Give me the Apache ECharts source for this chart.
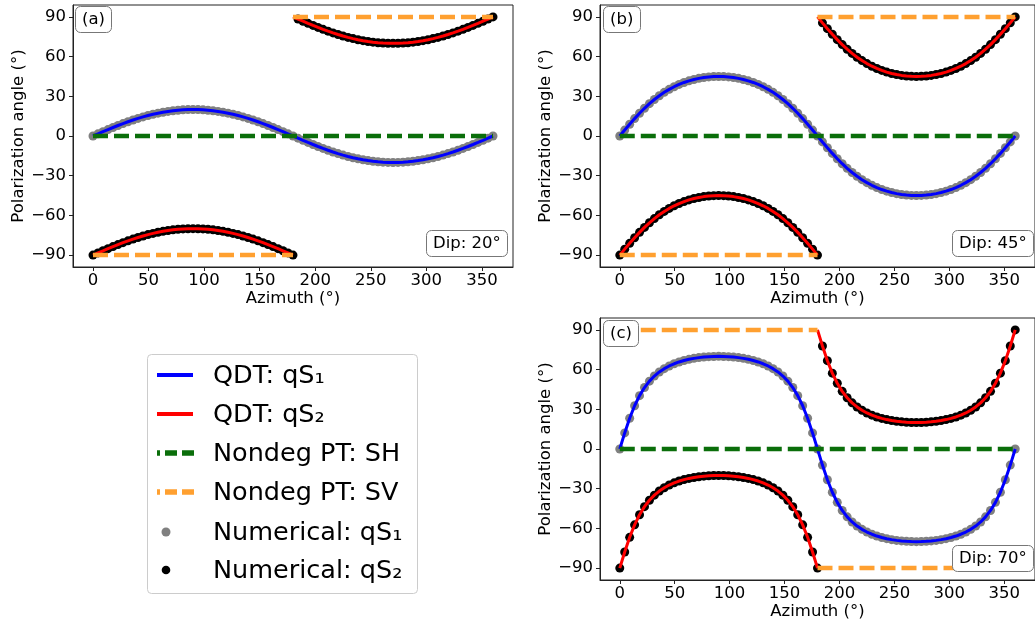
<!DOCTYPE html>
<html>
<head>
<meta charset="utf-8">
<script src="https://cdn.jsdelivr.net/npm/echarts@6/dist/echarts.min.js"></script>
<style>
html,body{margin:0;padding:0;background:#fff;}
#chart{width:1035px;height:628px;}
</style>
</head>
<body>
<div id="chart"></div>
<script>
// ---- data ----
const azimuth = [0,4.5,9,13.5,18,22.5,27,31.5,36,40.5,45,49.5,54,58.5,63,67.5,72,76.5,81,85.5,90,94.5,99,103.5,108,112.5,117,121.5,126,130.5,135,139.5,144,148.5,153,157.5,162,166.5,171,175.5,180,184.5,189,193.5,198,202.5,207,211.5,216,220.5,225,229.5,234,238.5,243,247.5,252,256.5,261,265.5,270,274.5,279,283.5,288,292.5,297,301.5,306,310.5,315,319.5,324,328.5,333,337.5,342,346.5,351,355.5,360];
const azimuthLow = [0,4.5,9,13.5,18,22.5,27,31.5,36,40.5,45,49.5,54,58.5,63,67.5,72,76.5,81,85.5,90,94.5,99,103.5,108,112.5,117,121.5,126,130.5,135,139.5,144,148.5,153,157.5,162,166.5,171,175.5,180];
const azimuthHigh = [180,184.5,189,193.5,198,202.5,207,211.5,216,220.5,225,229.5,234,238.5,243,247.5,252,256.5,261,265.5,270,274.5,279,283.5,288,292.5,297,301.5,306,310.5,315,319.5,324,328.5,333,337.5,342,346.5,351,355.5,360];

// Dip 20
const qs1Dip20 = [0,1.64,3.26,4.86,6.42,7.93,9.38,10.77,12.08,13.3,14.43,15.47,16.41,17.24,17.97,18.59,19.09,19.49,19.77,19.94,20,19.94,19.77,19.49,19.09,18.59,17.97,17.24,16.41,15.47,14.43,13.3,12.08,10.77,9.38,7.93,6.42,4.86,3.26,1.64,0,-1.64,-3.26,-4.86,-6.42,-7.93,-9.38,-10.77,-12.08,-13.3,-14.43,-15.47,-16.41,-17.24,-17.97,-18.59,-19.09,-19.49,-19.77,-19.94,-20,-19.94,-19.77,-19.49,-19.09,-18.59,-17.97,-17.24,-16.41,-15.47,-14.43,-13.3,-12.08,-10.77,-9.38,-7.93,-6.42,-4.86,-3.26,-1.64,0];
const qs2LowDip20 = [-90,-88.36,-86.74,-85.14,-83.58,-82.07,-80.62,-79.23,-77.92,-76.7,-75.57,-74.53,-73.59,-72.76,-72.03,-71.41,-70.91,-70.51,-70.23,-70.06,-70,-70.06,-70.23,-70.51,-70.91,-71.41,-72.03,-72.76,-73.59,-74.53,-75.57,-76.7,-77.92,-79.23,-80.62,-82.07,-83.58,-85.14,-86.74,-88.36,-90];
const qs2HighDip20 = [90,88.36,86.74,85.14,83.58,82.07,80.62,79.23,77.92,76.7,75.57,74.53,73.59,72.76,72.03,71.41,70.91,70.51,70.23,70.06,70,70.06,70.23,70.51,70.91,71.41,72.03,72.76,73.59,74.53,75.57,76.7,77.92,79.23,80.62,82.07,83.58,85.14,86.74,88.36,90];

// Dip 45
const qs1Dip45 = [0,4.49,8.89,13.14,17.17,20.94,24.42,27.59,30.45,33,35.26,37.25,38.97,40.45,41.7,42.73,43.56,44.2,44.65,44.91,45,44.91,44.65,44.2,43.56,42.73,41.7,40.45,38.97,37.25,35.26,33,30.45,27.59,24.42,20.94,17.17,13.14,8.89,4.49,0,-4.49,-8.89,-13.14,-17.17,-20.94,-24.42,-27.59,-30.45,-33,-35.26,-37.25,-38.97,-40.45,-41.7,-42.73,-43.56,-44.2,-44.65,-44.91,-45,-44.91,-44.65,-44.2,-43.56,-42.73,-41.7,-40.45,-38.97,-37.25,-35.26,-33,-30.45,-27.59,-24.42,-20.94,-17.17,-13.14,-8.89,-4.49,0];
const qs2LowDip45 = [-90,-85.51,-81.11,-76.86,-72.83,-69.06,-65.58,-62.41,-59.55,-57,-54.74,-52.75,-51.03,-49.55,-48.3,-47.27,-46.44,-45.8,-45.35,-45.09,-45,-45.09,-45.35,-45.8,-46.44,-47.27,-48.3,-49.55,-51.03,-52.75,-54.74,-57,-59.55,-62.41,-65.58,-69.06,-72.83,-76.86,-81.11,-85.51,-90];
const qs2HighDip45 = [90,85.51,81.11,76.86,72.83,69.06,65.58,62.41,59.55,57,54.74,52.75,51.03,49.55,48.3,47.27,46.44,45.8,45.35,45.09,45,45.09,45.35,45.8,46.44,47.27,48.3,49.55,51.03,52.75,54.74,57,59.55,62.41,65.58,69.06,72.83,76.86,81.11,85.51,90];

// Dip 70
const qs1Dip70 = [0,12.16,23.26,32.68,40.33,46.44,51.28,55.14,58.23,60.73,62.76,64.42,65.78,66.88,67.78,68.5,69.06,69.48,69.77,69.94,70,69.94,69.77,69.48,69.06,68.5,67.78,66.88,65.78,64.42,62.76,60.73,58.23,55.14,51.28,46.44,40.33,32.68,23.26,12.16,0,-12.16,-23.26,-32.68,-40.33,-46.44,-51.28,-55.14,-58.23,-60.73,-62.76,-64.42,-65.78,-66.88,-67.78,-68.5,-69.06,-69.48,-69.77,-69.94,-70,-69.94,-69.77,-69.48,-69.06,-68.5,-67.78,-66.88,-65.78,-64.42,-62.76,-60.73,-58.23,-55.14,-51.28,-46.44,-40.33,-32.68,-23.26,-12.16,0];
const qs2LowDip70 = [-90,-77.84,-66.74,-57.32,-49.67,-43.56,-38.72,-34.86,-31.77,-29.27,-27.24,-25.58,-24.22,-23.12,-22.22,-21.5,-20.94,-20.52,-20.23,-20.06,-20,-20.06,-20.23,-20.52,-20.94,-21.5,-22.22,-23.12,-24.22,-25.58,-27.24,-29.27,-31.77,-34.86,-38.72,-43.56,-49.67,-57.32,-66.74,-77.84,-90];
const qs2HighDip70 = [90,77.84,66.74,57.32,49.67,43.56,38.72,34.86,31.77,29.27,27.24,25.58,24.22,23.12,22.22,21.5,20.94,20.52,20.23,20.06,20,20.06,20.23,20.52,20.94,21.5,22.22,23.12,24.22,25.58,27.24,29.27,31.77,34.86,38.72,43.56,49.67,57.32,66.74,77.84,90];

// Nondegenerate PT lines
const shAz = [0, 360];
const shVal = [0, 0];
const svAzHighHalf = [180, 360];
const svAzLowHalf = [0, 180];
const svTopVal = [90, 90];
const svBottomVal = [-90, -90];

const xTicks = [0, 50, 100, 150, 200, 250, 300, 350];
const yTicks = [-90, -60, -30, 0, 30, 60, 90];
const panelLabels = ['(a)', '(b)', '(c)'];
const dipLabels = ['Dip: 20°', 'Dip: 45°', 'Dip: 70°'];
const legendLabels = ['QDT: qS₁', 'QDT: qS₂', 'Nondeg PT: SH', 'Nondeg PT: SV', 'Numerical: qS₁', 'Numerical: qS₂'];

// ---- chart ----
const FONT = 'DejaVu Sans';
const BLUE = '#0000ff', RED = '#ff0000', GREEN = '#0a6e0a', ORANGE = '#ffa030', GREY = '#808080', BLACK = '#000000';
const AXC = '#222';

function zip(xs, ys) { return xs.map((x, i) => [x, ys[i]]); }
function fmtY(v) { return v < 0 ? '\u2212' + (-v) : String(v); }

const grids = [
  {left: 73, top: 5, width: 440, height: 262},
  {left: 600, top: 5, width: 443, height: 262},
  {left: 600, top: 318, width: 443, height: 262}
];

const panels = [
  {qs1: qs1Dip20, low: qs2LowDip20, high: qs2HighDip20, svTopAz: svAzHighHalf, svBotAz: svAzLowHalf},
  {qs1: qs1Dip45, low: qs2LowDip45, high: qs2HighDip45, svTopAz: svAzHighHalf, svBotAz: svAzLowHalf},
  {qs1: qs1Dip70, low: qs2LowDip70, high: qs2HighDip70, svTopAz: svAzLowHalf, svBotAz: svAzHighHalf}
];

const xAxes = [], yAxes = [], series = [];
grids.forEach((g, k) => {
  xAxes.push({
    type: 'value', gridIndex: k, min: -18, max: 378,
    name: 'Azimuth (°)', nameLocation: 'middle', nameGap: 20,
    nameTextStyle: {fontFamily: FONT, fontSize: 16.5, color: '#000'},
    axisLine: {show: true, onZero: false, lineStyle: {color: AXC, width: 1}},
    axisTick: {show: true, length: 4, customValues: xTicks, lineStyle: {color: AXC, width: 1}},
    axisLabel: {show: true, margin: 5, customValues: xTicks, fontFamily: FONT, fontSize: 16.5, color: '#000'},
    splitLine: {show: false}
  });
  yAxes.push({
    type: 'value', gridIndex: k, min: -99, max: 99,
    name: 'Polarization angle (°)', nameLocation: 'middle', nameGap: 45,
    nameTextStyle: {fontFamily: FONT, fontSize: 16.5, color: '#000'},
    axisLine: {show: true, onZero: false, lineStyle: {color: AXC, width: 1}},
    axisTick: {show: true, length: 4, customValues: yTicks, lineStyle: {color: AXC, width: 1}},
    axisLabel: {show: true, margin: 7, customValues: yTicks, formatter: fmtY, fontFamily: FONT, fontSize: 16.5, color: '#000'},
    splitLine: {show: false}
  });
  const p = panels[k];
  const base = {xAxisIndex: k, yAxisIndex: k, silent: true, animation: false};
  // numerical points
  series.push(Object.assign({}, base, {type: 'scatter', name: 'Numerical: qS1', z: 2,
    data: zip(azimuth, p.qs1), symbolSize: 9, itemStyle: {color: GREY, opacity: 1}}));
  series.push(Object.assign({}, base, {type: 'scatter', name: 'Numerical: qS2', z: 2,
    data: zip(azimuthLow, p.low), symbolSize: 9, itemStyle: {color: BLACK, opacity: 1}}));
  series.push(Object.assign({}, base, {type: 'scatter', name: 'Numerical: qS2', z: 2,
    data: zip(azimuthHigh, p.high).slice(1), symbolSize: 9, itemStyle: {color: BLACK, opacity: 1}}));
  // QDT lines
  series.push(Object.assign({}, base, {type: 'line', name: 'QDT: qS1', z: 3, showSymbol: false, symbol: 'none',
    data: zip(azimuth, p.qs1), lineStyle: {color: BLUE, width: 3}}));
  series.push(Object.assign({}, base, {type: 'line', name: 'QDT: qS2', z: 3, showSymbol: false, symbol: 'none',
    data: zip(azimuthLow, p.low), lineStyle: {color: RED, width: 3}}));
  series.push(Object.assign({}, base, {type: 'line', name: 'QDT: qS2', z: 3, showSymbol: false, symbol: 'none',
    data: zip(azimuthHigh, p.high), lineStyle: {color: RED, width: 3}}));
  // Nondegenerate PT
  series.push(Object.assign({}, base, {type: 'line', name: 'Nondeg PT: SH', z: 4, showSymbol: false, symbol: 'none',
    data: zip(shAz, shVal), lineStyle: {color: GREEN, width: 4.5, type: [15, 6]}}));
  series.push(Object.assign({}, base, {type: 'line', name: 'Nondeg PT: SV', z: 4, showSymbol: false, symbol: 'none',
    data: zip(p.svTopAz, svTopVal), lineStyle: {color: ORANGE, width: 4.5, type: [15, 6]}}));
  series.push(Object.assign({}, base, {type: 'line', name: 'Nondeg PT: SV', z: 4, showSymbol: false, symbol: 'none',
    data: zip(p.svBotAz, svBottomVal), lineStyle: {color: ORANGE, width: 4.5, type: [15, 6]}}));
});

const boxStyle = {
  padding: [5, 7], borderWidth: 1, borderColor: '#777', borderRadius: 5, backgroundColor: '#fff',
  textStyle: {fontFamily: FONT, fontSize: 16.5, fontWeight: 'normal', color: '#000'}
};
const titles = [
  Object.assign({}, boxStyle, {text: panelLabels[0], left: 75, top: 6}),
  Object.assign({}, boxStyle, {text: panelLabels[1], left: 603, top: 6}),
  Object.assign({}, boxStyle, {text: panelLabels[2], left: 603, top: 320}),
  Object.assign({}, boxStyle, {text: dipLabels[0], left: 426, top: 230}),
  Object.assign({}, boxStyle, {text: dipLabels[1], left: 952, top: 230}),
  Object.assign({}, boxStyle, {text: dipLabels[2], left: 952, top: 545})
];

// legend drawn as a framed box
const rowY = [375, 414, 453, 492, 532, 570];
const legendGraphics = [
  {type: 'rect', shape: {x: 147.5, y: 354.5, width: 270, height: 239, r: 4},
   style: {fill: '#fff', stroke: '#cccccc', lineWidth: 1}, z: 10},
  {type: 'line', shape: {x1: 157, y1: rowY[0], x2: 193, y2: rowY[0]}, style: {stroke: BLUE, lineWidth: 4}, z: 11},
  {type: 'line', shape: {x1: 157, y1: rowY[1], x2: 193, y2: rowY[1]}, style: {stroke: RED, lineWidth: 4}, z: 11},
  {type: 'line', shape: {x1: 157, y1: rowY[2], x2: 194, y2: rowY[2]}, style: {stroke: GREEN, lineWidth: 5.5, lineDash: [12, 5], lineDashOffset: 9}, z: 11},
  {type: 'line', shape: {x1: 157, y1: rowY[3], x2: 194, y2: rowY[3]}, style: {stroke: ORANGE, lineWidth: 5.5, lineDash: [12, 5], lineDashOffset: 9}, z: 11},
  {type: 'circle', shape: {cx: 166, cy: rowY[4], r: 4.5}, style: {fill: GREY}, z: 11},
  {type: 'circle', shape: {cx: 166, cy: rowY[5], r: 4.3}, style: {fill: BLACK}, z: 11}
];
legendLabels.forEach((t, i) => {
  legendGraphics.push({type: 'text', x: 213, y: rowY[i] + 1, z: 11,
    style: {text: t, fontFamily: FONT, fontSize: 25.5, fill: '#000', verticalAlign: 'middle', align: 'left'}});
});

const chart = echarts.init(document.getElementById('chart'), null, {renderer: 'canvas'});
chart.setOption({
  animation: false,
  backgroundColor: '#fff',
  title: titles,
  grid: grids.map(g => Object.assign({show: true, borderColor: AXC, borderWidth: 1, backgroundColor: 'transparent', containLabel: false}, g)),
  xAxis: xAxes,
  yAxis: yAxes,
  series: series,
  graphic: legendGraphics
});
</script>
</body>
</html>
